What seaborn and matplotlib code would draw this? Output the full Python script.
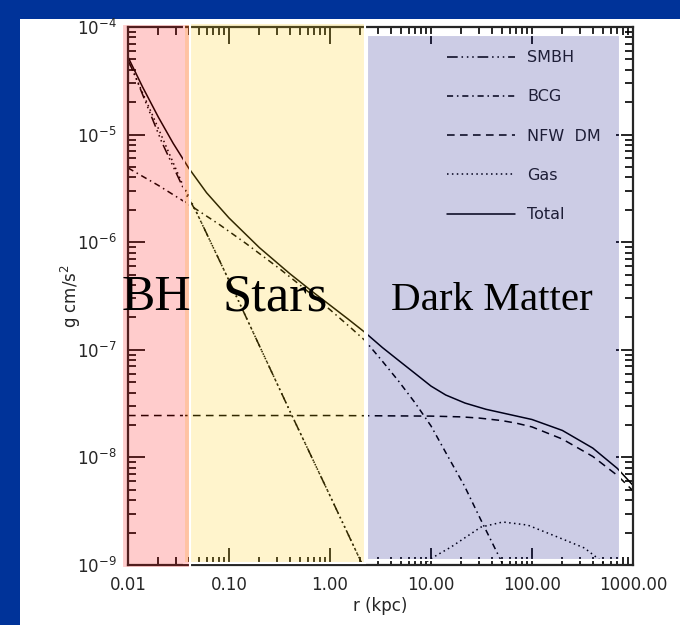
import matplotlib
matplotlib.use("Agg")
import matplotlib.pyplot as plt
import seaborn as sns
from matplotlib.patches import Rectangle
from matplotlib.ticker import NullFormatter

# radius (kpc) and acceleration (g cm/s^2)
r_smbh = [0.01, 0.0113, 0.0215, 0.0379, 0.0474, 0.1, 0.42, 1.0, 2.1, 2.5]
smbh = [4.9e-5, 3.85e-5, 8.6e-6, 2.75e-6, 1.92e-6, 4.4e-7, 2.45e-8, 4.4e-9, 1.0e-9, 7e-10]

r_bcg = [0.01, 0.02, 0.0407, 0.0794, 0.148, 0.316, 0.5, 1.0, 1.585, 2.2, 3.24, 4.75,
         6.98, 10, 14.8, 21.5, 31.2, 49.1, 72]
bcg = [4.9e-6, 3.37e-6, 2.22e-6, 1.47e-6, 9.7e-7, 5.68e-7, 4.03e-7, 2.36e-7, 1.62e-7,
       1.23e-7, 8.0e-8, 5.15e-8, 3.2e-8, 1.96e-8, 1.01e-8, 5.4e-9, 2.62e-9, 1.11e-9, 5.2e-10]

r_nfw = [0.01, 1, 10, 20, 30, 50, 70, 100, 200, 400, 700, 1000]
nfw = [2.45e-8, 2.45e-8, 2.42e-8, 2.38e-8, 2.32e-8, 2.2e-8, 2.08e-8, 1.92e-8, 1.48e-8,
       1.02e-8, 6.8e-9, 4.9e-9]

r_gas = [0.01, 0.0109, 0.0199, 0.0338, 0.0424, 0.1, 0.42, 1.0, 2.1, 4.0, 9.4, 15.8, 31.2,
         51.4, 90.6, 179, 330, 496, 700]
gas = [4.9e-5, 4.13e-5, 1.15e-5, 3.65e-6, 2.38e-6, 4.4e-7, 2.45e-8, 4.4e-9, 1.0e-9, 3e-10,
       1.11e-9, 1.47e-9, 2.25e-9, 2.51e-9, 2.35e-9, 1.82e-9, 1.44e-9, 1.07e-9, 7e-10]

r_total = [0.01, 0.014, 0.02, 0.028, 0.04, 0.06, 0.1, 0.2, 0.4, 0.7, 1.0, 1.5, 2.2, 3.3,
           4.75, 7, 10, 14, 21.7, 35, 50, 100, 200, 400, 700, 1000]
total = [5.26e-5, 2.75e-5, 1.45e-5, 8.3e-6, 4.87e-6, 2.88e-6, 1.68e-6, 8.9e-7, 5.1e-7,
         3.36e-7, 2.6e-7, 1.94e-7, 1.46e-7, 1.05e-7, 8.0e-8, 6.0e-8, 4.6e-8, 3.8e-8,
         3.2e-8, 2.8e-8, 2.6e-8, 2.25e-8, 1.78e-8, 1.22e-8, 7.9e-9, 5.5e-9]

xtick_vals = [0.01, 0.1, 1, 10, 100, 1000]
xtick_labels = ["0.01", "0.10", "1.00", "10.00", "100.00", "1000.00"]

regions = ["BH", "Stars", "Dark Matter"]
region_bounds = [(0.0087, 0.0412), (0.0356, 2.2), (2.3, 740)]
region_colors = [(1, 0, 0, 0.2), (1, 0.8, 0, 0.2), (0, 0, 0.5, 0.2)]

series = [
    ("SMBH", r_smbh, smbh, (0, (7, 2.5, 1, 2.5, 1, 2.5, 1, 2.5))),
    ("BCG", r_bcg, bcg, (0, (4, 2.5, 1, 2.5))),
    ("NFW  DM", r_nfw, nfw, (0, (5, 3.5))),
    ("Gas", r_gas, gas, (0, (1, 2.2))),
    ("Total", r_total, total, "-"),
]

sns.set_style("ticks")
plt.rcParams["font.family"] = ["DejaVu Sans"]

fig = plt.figure(figsize=(6.8, 6.25), dpi=100, facecolor="#003399")
fig.patches.append(Rectangle((20 / 680, 0), 1, 606 / 625, transform=fig.transFigure,
                             facecolor="white", edgecolor="none", zorder=-1))
ax = fig.add_axes([128 / 680, 60 / 625, 505 / 680, 538 / 625])
ax.set_zorder(1)
ax.set_facecolor("white")
ax.set_xscale("log")
ax.set_yscale("log")

for name, rx, gy, ls in series:
    sns.lineplot(x=rx, y=gy, ax=ax, color="black", linestyle=ls, linewidth=1.1,
                 label=name, errorbar=None, zorder=2)

ax.set_xlim(0.01, 1000)
ax.set_ylim(1e-9, 1e-4)
ax.set_xticks(xtick_vals)
ax.set_xticklabels(xtick_labels)
ax.xaxis.set_minor_formatter(NullFormatter())
ax.yaxis.set_minor_formatter(NullFormatter())
ax.tick_params(which="both", direction="in", top=True, right=True, labelsize=12,
               width=1.2, color="black", pad=8)
ax.tick_params(which="major", length=12)
ax.tick_params(which="minor", length=6)
for sp in ax.spines.values():
    sp.set_linewidth(1.6)
    sp.set_visible(True)

ax.set_xlabel("r (kpc)", fontsize=12)
ax.set_ylabel("g cm/s$^2$", fontsize=12)
ax.xaxis.set_label_coords(0.5, -0.06)
ax.yaxis.set_label_coords(-0.09, 0.5)

# coloured overlays for the three regimes (yellow first, red laid over it)
span_y = [(-0.006, 1.006), (0.004, 1.008), (0.009, 0.985)]
for i in [1, 0, 2]:
    (x0, x1), fc, (y0, y1) = region_bounds[i], region_colors[i], span_y[i]
    ax.axvspan(x0, x1, ymin=y0, ymax=y1, facecolor=fc, edgecolor="white",
               linewidth=1.5, zorder=4, clip_on=False)

text_x = [0.0193, 0.285, 40]
text_sizes = [36, 38, 29.5]
for label, tx, fs in zip(regions, text_x, text_sizes):
    ax.text(tx, 2.34e-7, label, ha="center", va="baseline", fontsize=fs,
            family="Liberation Serif", color="black", zorder=6)

leg = ax.legend(loc="upper left", bbox_to_anchor=(0.632, 0.957), frameon=False,
                fontsize=11.5, handlelength=4.25, handletextpad=0.75,
                labelspacing=1.52, borderaxespad=0, borderpad=0)
leg.set_zorder(3)

fig.savefig("out.png", dpi=100, facecolor=fig.get_facecolor())
